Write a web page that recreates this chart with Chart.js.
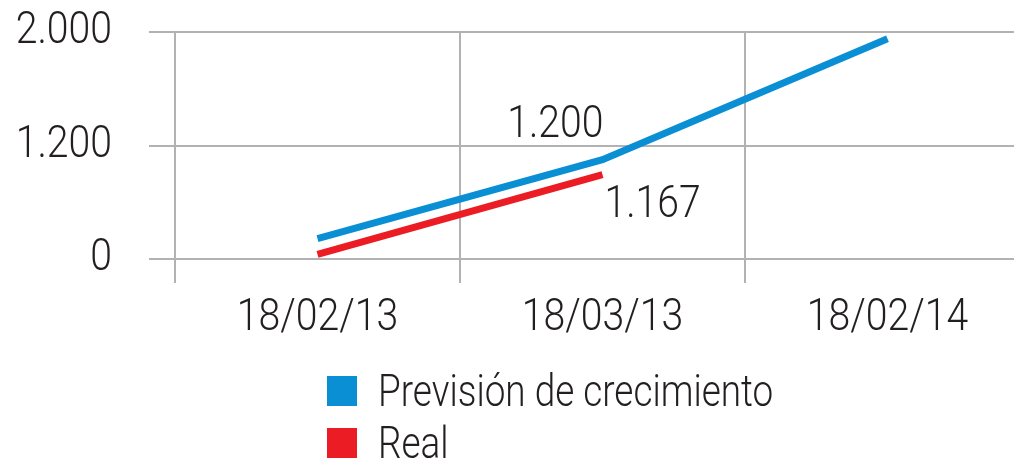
<!DOCTYPE html>
<html>
<head>
<meta charset="utf-8">
<script src="https://cdn.jsdelivr.net/npm/chart.js@4.4.1/dist/chart.umd.min.js"></script>
<style>
  html, body { margin: 0; padding: 0; background: #fff; overflow: hidden; width: 1014px; height: 461px; }
  #wrap { position: absolute; left: 0; top: 0; width: 1030px; height: 461px; }
  #legend { position: absolute; left: 327px; top: 364px; font-family: Roboto, "Liberation Sans", sans-serif; font-weight: 300; font-size: 45px; color: #231f20; }
  .item { display: flex; align-items: center; height: 52px; white-space: nowrap; }
  .sw { width: 30px; height: 30px; margin-right: 21px; margin-top: 2px; flex: none; }
  .tx { display: inline-block; transform: scaleX(0.82); transform-origin: 0 50%; }
</style>
</head>
<body>
<div id="wrap"><canvas id="c"></canvas></div>
<div id="legend"></div>
<script>
const categories = ['18/02/13', '18/03/13', '18/02/14'];
const seriesNames = ['Previsión de crecimiento', 'Real'];
const prevision = [179, 875, 1941];
const real = [40, 743];
const previsionLabels = [null, '1.200', null];
const realLabels = [null, '1.167'];
const yTickValues = [0, 1000, 2000];
const yTickLabels = ['0', '1.200', '2.000'];
const colors = ['#0a8fd5', '#ec1c24'];

const FONT = 'Roboto, "Liberation Sans", sans-serif';
const TEXT = '#231f20';
const GRID = '#b2b2b4';
const CONDENSE = 0.87;

// condensed text rendering (reference uses a condensed typeface)
const canvas = document.getElementById('c');
const c2d = canvas.getContext('2d');
const origFill = c2d.fillText.bind(c2d);
c2d.fillText = function (t, x, y, mw) {
  this.save();
  this.translate(x, y);
  this.scale(CONDENSE, 1);
  origFill(t, 0, 0);
  this.restore();
};

const dataLabelPlugin = {
  id: 'dataLabels',
  afterDatasetsDraw(chart) {
    const ctx = chart.ctx;
    ctx.save();
    ctx.font = '300 45px ' + FONT;
    ctx.fillStyle = TEXT;
    const sets = [previsionLabels, realLabels];
    sets.forEach((labels, di) => {
      const meta = chart.getDatasetMeta(di);
      labels.forEach((lab, i) => {
        if (!lab) return;
        const pt = meta.data[i];
        ctx.textBaseline = 'alphabetic';
        if (di === 0) {
          ctx.textAlign = 'right';
          ctx.fillText(lab, pt.x + 1, pt.y - 23);
        } else {
          ctx.textAlign = 'left';
          ctx.fillText(lab, pt.x + 2, pt.y + 42);
        }
      });
    });
    ctx.restore();
  }
};

new Chart(canvas, {
  type: 'line',
  data: {
    labels: categories,
    datasets: [
      { label: seriesNames[0], data: prevision, borderColor: colors[0], backgroundColor: colors[0], borderWidth: 7, pointRadius: 0, tension: 0, borderCapStyle: 'butt' },
      { label: seriesNames[1], data: real, borderColor: colors[1], backgroundColor: colors[1], borderWidth: 7, pointRadius: 0, tension: 0, borderCapStyle: 'butt' }
    ]
  },
  options: {
    responsive: true,
    maintainAspectRatio: false,
    animation: false,
    events: [],
    layout: { padding: { top: 32, right: 0, bottom: 0, left: 0 } },
    plugins: { legend: { display: false }, tooltip: { enabled: false } },
    scales: {
      x: {
        offset: true,
        grid: { offset: true, color: GRID, lineWidth: 2, tickLength: 24, drawOnChartArea: true },
        border: { display: false },
        ticks: { font: { family: FONT, size: 45, weight: 300 }, color: TEXT, padding: 9, maxRotation: 0 },
        afterFit(scale) { scale.height = 202; scale.paddingLeft = 0; scale.paddingRight = 0; }
      },
      y: {
        min: 0, max: 2000,
        afterBuildTicks(scale) { scale.ticks = yTickValues.map(v => ({ value: v })); },
        grid: { color: GRID, lineWidth: 2, tickLength: 26 },
        border: { display: true, color: GRID, width: 2 },
        ticks: {
          font: { family: FONT, size: 45, weight: 300 }, color: TEXT, padding: 37,
          callback: (v) => yTickLabels[yTickValues.indexOf(v)]
        },
        afterFit(scale) { scale.width = 175; scale.paddingTop = 0; scale.paddingBottom = 0; }
      }
    }
  },
  plugins: [dataLabelPlugin]
});

const leg = document.getElementById('legend');
seriesNames.forEach((n, i) => {
  const d = document.createElement('div');
  d.className = 'item';
  const s = document.createElement('span');
  s.className = 'sw';
  s.style.background = colors[i];
  const t = document.createElement('span');
  t.className = 'tx';
  t.textContent = n;
  d.appendChild(s); d.appendChild(t);
  leg.appendChild(d);
});
</script>
</body>
</html>
